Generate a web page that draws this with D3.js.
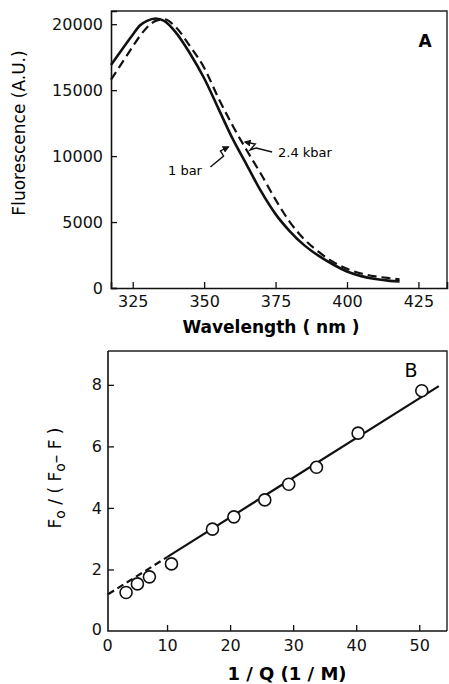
<!DOCTYPE html>
<html lang="en">
<head>
    <meta charset="UTF-8">
    <style>
        body { margin: 0; background: #fff; }
        svg { font-family: "DejaVu Sans", sans-serif; }
        .tick text { font-size: 16px; fill: #111; }
        .tick line { stroke: #111; stroke-width: 1.3; }
        .frame { fill: none; stroke: #222; stroke-width: 1.4; }
    </style>
    <script src="https://d3js.org/d3.v7.min.js"></script>
    <title>Fluorescence and quenching</title>
</head>
<body>
    <svg width="449" height="684"></svg>
    <script>

        // panel A: emission spectra at 1 bar and 2.4 kbar
        var wavelength = [317.4, 320, 325, 327.5, 330, 333, 336, 340, 345, 350, 355, 360, 365, 370, 375, 380, 385, 390, 395, 400, 405, 410, 415, 418.4];
        var fluor1bar = [16900, 17700, 19200, 19900, 20250, 20430, 20250, 19400, 17800, 15900, 13600, 11300, 9300, 7300, 5600, 4300, 3250, 2450, 1800, 1250, 900, 680, 540, 500];
        var fluor24kbar = [15800, 16650, 18300, 19100, 19750, 20250, 20380, 19800, 18350, 16700, 14400, 12300, 10400, 8600, 6700, 5000, 3700, 2750, 2000, 1450, 1100, 880, 740, 660];
        var waveTicks = [325, 350, 375, 400, 425];
        var fluorTicks = [0, 5000, 10000, 15000, 20000];

        // panel B: Stern-Volmer style plot
        var invQ = [3.5, 5.3, 7.2, 10.7, 17.2, 20.6, 25.5, 29.3, 33.7, 40.3, 50.4];
        var ratio = [1.25, 1.53, 1.76, 2.18, 3.31, 3.71, 4.26, 4.77, 5.32, 6.43, 7.81];
        var invQTicks = [0, 10, 20, 30, 40, 50];
        var ratioTicks = [0, 2, 4, 6, 8];
        var fitIntercept = 1.11, fitSlope = 0.129;
        var fitStart = 0.65, fitDashEnd = 10, fitEnd = 53.1;

        var svg = d3.select("svg");

        // arrowhead marker
        svg.append("defs").append("marker")
            .attr("id", "head")
            .attr("viewBox", "0 0 10 10")
            .attr("refX", 8).attr("refY", 5)
            .attr("markerWidth", 7).attr("markerHeight", 7)
            .attr("markerUnits", "userSpaceOnUse")
            .attr("orient", "auto")
          .append("path")
            .attr("d", "M0,0L10,5L0,10z")
            .attr("fill", "#111");

        // ---------- panel A ----------
        var xA = d3.scaleLinear().domain([317.4, 435]).range([111, 447]);
        var yA = d3.scaleLinear().domain([0, 21000]).range([288, 11]);

        var gA = svg.append("g");

        gA.append("path")
            .attr("class", "frame")
            .attr("d", "M" + xA.range()[0] + "," + yA.range()[1] + "H" + xA.range()[1] + "V" + yA.range()[0]);

        var axLeftA = gA.append("g")
            .attr("transform", "translate(" + xA.range()[0] + ",0)")
            .call(d3.axisLeft(yA).tickValues(fluorTicks).tickFormat(d3.format("d")).tickSize(-6).tickPadding(8));
        var axBottomA = gA.append("g")
            .attr("transform", "translate(0," + yA.range()[0] + ")")
            .call(d3.axisBottom(xA).tickValues(waveTicks).tickFormat(d3.format("d")).tickSize(-6).tickPadding(8));
        [axLeftA, axBottomA].forEach(function(a) {
            a.attr("font-size", null).attr("font-family", null);
            a.select(".domain").attr("stroke", "#111").attr("stroke-width", 1.6);
        });

        var lineA = function(vals) {
            return d3.line()
                .x(function(d, i) { return xA(wavelength[i]); })
                .y(function(d) { return yA(d); })
                .curve(d3.curveMonotoneX)(vals);
        };

        gA.append("path")
            .attr("d", lineA(fluor1bar))
            .attr("fill", "none").attr("stroke", "#111").attr("stroke-width", 2.6);
        gA.append("path")
            .attr("d", lineA(fluor24kbar))
            .attr("fill", "none").attr("stroke", "#111").attr("stroke-width", 2.2)
            .attr("stroke-dasharray", "9,5");

        // annotations
        var arrow1 = [[352.2, 9174], [356.8, 10008], [355.7, 10387], [358.5, 10690]];
        var arrow2 = [[373.8, 10311], [368.2, 10614], [366.1, 10462], [367.9, 10917], [364.3, 11069]];
        var arrowLine = d3.line().x(function(d) { return xA(d[0]); }).y(function(d) { return yA(d[1]); });
        [arrow1, arrow2].forEach(function(a) {
            gA.append("path")
                .attr("d", arrowLine(a))
                .attr("fill", "none").attr("stroke", "#111").attr("stroke-width", 1.4)
                .attr("marker-end", "url(#head)");
        });
        gA.append("text").attr("x", 168).attr("y", 175).attr("font-size", 13).text("1 bar");
        gA.append("text").attr("x", 278).attr("y", 157).attr("font-size", 13).text("2.4 kbar");
        gA.append("text").attr("x", 425).attr("y", 47).attr("text-anchor", "middle")
            .attr("font-size", 17).attr("font-weight", "bold").text("A");

        gA.append("text")
            .attr("transform", "translate(25,133) rotate(-90)")
            .attr("text-anchor", "middle").attr("font-size", 17)
            .text("Fluorescence (A.U.)");
        gA.append("text")
            .attr("x", 271).attr("y", 333)
            .attr("text-anchor", "middle").attr("font-size", 17).attr("font-weight", "bold")
            .text("Wavelength ( nm )");

        // ---------- panel B ----------
        var xB = d3.scaleLinear().domain([0, 54.4]).range([104, 447]);
        var yB = d3.scaleLinear().domain([0, 9.1]).range([631, 351]);
        var axisX = 108;

        var gB = svg.append("g");

        gB.append("path")
            .attr("class", "frame")
            .attr("d", "M" + axisX + "," + yB.range()[1] + "H" + xB.range()[1] + "V" + yB.range()[0]);

        var axLeftB = gB.append("g")
            .attr("transform", "translate(" + axisX + ",0)")
            .call(d3.axisLeft(yB).tickValues(ratioTicks).tickSize(-6).tickPadding(6));
        var axBottomB = gB.append("g")
            .attr("transform", "translate(0," + yB.range()[0] + ")")
            .call(d3.axisBottom(xB).tickValues(invQTicks).tickSize(-6).tickPadding(9));
        [axLeftB, axBottomB].forEach(function(a) {
            a.attr("font-size", null).attr("font-family", null);
            a.select(".domain").remove();
        });
        axLeftB.selectAll(".tick text").attr("font-size", 17);
        axBottomB.selectAll(".tick").filter(function(d) { return d === 0; }).select("line").remove();
        axBottomB.selectAll(".tick").filter(function(d) { return d === 0; }).select("text").attr("dx", "0.2em");
        axLeftB.selectAll(".tick").filter(function(d) { return d === 0; }).select("line").remove();
        axLeftB.selectAll(".tick").filter(function(d) { return d === 0; }).select("text").attr("dy", "0.2em");

        // the axes themselves
        gB.append("path")
            .attr("d", "M" + axisX + "," + yB.range()[1] + "V" + yB.range()[0] + "H" + xB.range()[1])
            .attr("fill", "none").attr("stroke", "#111").attr("stroke-width", 1.6);

        // fitted line: dashed extrapolation, solid over the data
        var fit = function(x) { return fitIntercept + fitSlope * x; };
        gB.append("line")
            .attr("x1", xB(fitStart)).attr("y1", yB(fit(fitStart)))
            .attr("x2", xB(fitDashEnd)).attr("y2", yB(fit(fitDashEnd)))
            .attr("stroke", "#111").attr("stroke-width", 2.2).attr("stroke-dasharray", "7,4");
        gB.append("line")
            .attr("x1", xB(fitDashEnd)).attr("y1", yB(fit(fitDashEnd)))
            .attr("x2", xB(fitEnd)).attr("y2", yB(fit(fitEnd)))
            .attr("stroke", "#111").attr("stroke-width", 2.2);

        gB.selectAll("circle")
            .data(invQ)
            .enter().append("circle")
            .attr("cx", function(d) { return xB(d); })
            .attr("cy", function(d, i) { return yB(ratio[i]); })
            .attr("r", 6)
            .attr("fill", "#fff").attr("stroke", "#111").attr("stroke-width", 1.6);

        gB.append("text").attr("x", 411).attr("y", 377).attr("text-anchor", "middle")
            .attr("font-size", 19).text("B");

        var yTitle = gB.append("text")
            .attr("transform", "translate(61,478) rotate(-90)")
            .attr("text-anchor", "middle").attr("font-size", 17);
        yTitle.append("tspan").text("F");
        yTitle.append("tspan").attr("baseline-shift", "-25%").attr("font-size", 14).text("o");
        yTitle.append("tspan").text("  /  ( F");
        yTitle.append("tspan").attr("baseline-shift", "-25%").attr("font-size", 14).text("o");
        yTitle.append("tspan").text("\u2013 F )");

        gB.append("text")
            .attr("x", 287).attr("y", 680)
            .attr("text-anchor", "middle").attr("font-size", 18).attr("font-weight", "bold")
            .text("1 / Q (1 / M)");

    </script>
</body>
</html>
